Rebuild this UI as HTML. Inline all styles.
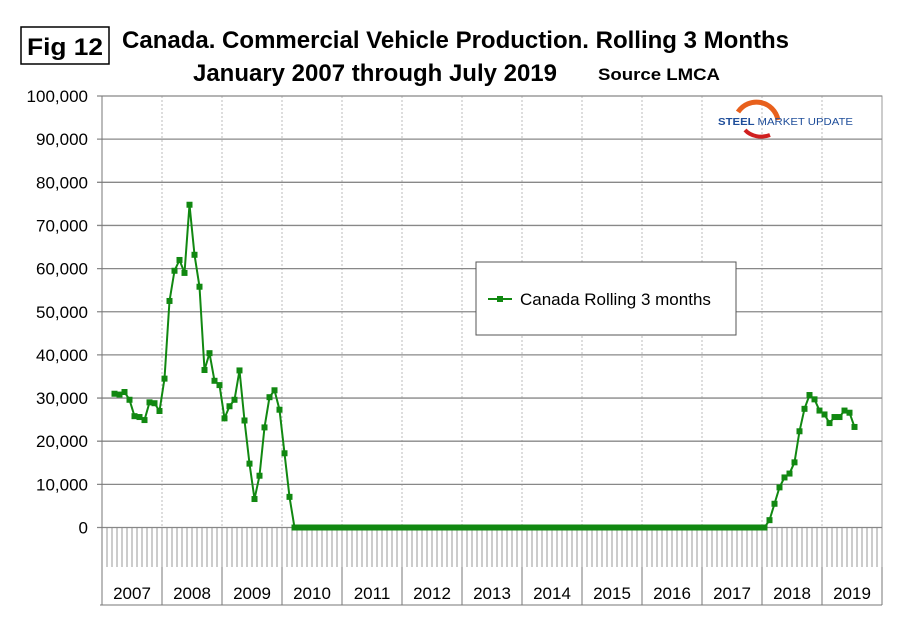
<!DOCTYPE html>
<html><head><meta charset="utf-8"><style>
body{margin:0;background:#fff;}
svg{display:block;font-family:"Liberation Sans",Arial,sans-serif;}
</style></head><body>
<svg id="chart" width="910" height="622" viewBox="0 0 910 622">
<rect x="0" y="0" width="910" height="622" fill="#fff"/>
<rect x="21" y="27" width="88" height="37" fill="#fff" stroke="#000" stroke-width="1.5"/>
<text x="65" y="55" font-size="24" font-weight="bold" text-anchor="middle" textLength="76" lengthAdjust="spacingAndGlyphs">Fig 12</text>
<text x="122" y="48" font-size="24" font-weight="bold" textLength="667" lengthAdjust="spacingAndGlyphs">Canada. Commercial Vehicle Production. Rolling 3 Months</text>
<text x="193" y="81" font-size="24" font-weight="bold" textLength="364" lengthAdjust="spacingAndGlyphs">January 2007 through July 2019</text>
<text x="598" y="80" font-size="17" font-weight="bold" textLength="122" lengthAdjust="spacingAndGlyphs">Source LMCA</text>
<g id="grid"></g>
<g id="logo">
<path d="M738 112 A22 22 0 0 1 778 120" fill="none" stroke="#e8601c" stroke-width="5"/>
<path d="M745 130 A20 16 0 0 0 770 135" fill="none" stroke="#d02020" stroke-width="4"/>
<text x="718" y="125" font-size="10.5" font-weight="bold" fill="#1f4e9a" textLength="135" lengthAdjust="spacingAndGlyphs">STEEL <tspan font-weight="normal">MARKET UPDATE</tspan></text>
</g>
<g id="series"></g>
<g>
<rect x="476" y="262" width="260" height="73" fill="#fff" stroke="#555" stroke-width="1"/>
<line x1="488" y1="299" x2="512" y2="299" stroke="#118811" stroke-width="2"/>
<rect x="497" y="296" width="6" height="6" fill="#118811"/>
<text x="520" y="305" font-size="17">Canada Rolling 3 months</text>
</g>
</svg>
<script>
const yTicks = [0,10000,20000,30000,40000,50000,60000,70000,80000,90000,100000];
const years = ["2007","2008","2009","2010","2011","2012","2013","2014","2015","2016","2017","2018","2019"];
const startMonth = 2; // March 2007
const values2007_2010 = [31000,30800,31400,29600,25800,25600,24900,29000,28800,27000,
 34500,52500,59500,62000,59000,74800,63200,55800,36500,40400,34000,33000,
 25300,28100,29600,36400,24800,14800,6600,12000,23200,30200,31800,27300,
 17200,7100];
const zeroMonths = 95; // Mar 2010 .. Jan 2018
const values2018_2019 = [1700,5500,9300,11600,12500,15100,22300,27500,30700,29700,27100,
 26200,24200,25600,25600,27100,26600,23300];
const values = values2007_2010.concat(new Array(zeroMonths).fill(0)).concat(values2018_2019);

const NS="http://www.w3.org/2000/svg";
const X0=102, X1=882, Y0=527.5, Y1=96, MW=5;
const totalMonths = years.length*12;
const xScale = m => X0 + (m+0.5)*(X1-X0)/totalMonths;
const xEdge = m => X0 + m*(X1-X0)/totalMonths;
const yScale = v => Y0 - (v/100000)*(Y0-Y1);
function mk(tag, attrs, parent){const e=document.createElementNS(NS,tag);for(const k in attrs)e.setAttribute(k,attrs[k]);parent.appendChild(e);return e;}
const grid=document.getElementById('grid');
const ser=document.getElementById('series');
mk('rect',{x:X0,y:Y1,width:X1-X0,height:Y0-Y1,fill:'#fff',stroke:'#999','stroke-width':1},grid);
years.forEach((y,i)=>{
  if(i>0){const l=mk('line',{x1:xEdge(i*12),x2:xEdge(i*12),y1:Y1,y2:Y0,stroke:'#bbb','stroke-dasharray':'2,2'},grid);
  
  }
  const s=mk('line',{x1:xEdge(i*12),x2:xEdge(i*12),y1:Y0,y2:605,stroke:'#777'},grid);
  
  
  const t=mk('text',{x:(xEdge(i*12)+xEdge(i*12+12))/2,y:599,'font-size':17,'text-anchor':'middle'},grid);
  t.textContent=y;
  
  
});
mk('line',{x1:X1,x2:X1,y1:Y0,y2:605,stroke:'#777'},grid);
mk('line',{x1:X0-2,x2:X1,y1:605,y2:605,stroke:'#777'},grid);
for(let m=0;m<=totalMonths;m++){
  const l=mk('line',{x1:xEdge(m),x2:xEdge(m),y1:Y0,y2:567,stroke:'#999'},grid);
  
  
}
yTicks.forEach(v=>{
  const l=mk('line',{x1:X0-5,x2:X1,y1:yScale(v),y2:yScale(v),stroke:'#888','stroke-width':1.3},grid);
  
  
  const t=mk('text',{x:88,y:yScale(v)+6,'font-size':17,'text-anchor':'end'},grid);
  t.textContent=v.toLocaleString('en-US');
  
  
});
mk('line',{x1:X0,x2:X0,y1:Y1,y2:605,stroke:'#777'},grid);
const pts=values.map((v,i)=>xScale(startMonth+i)+','+yScale(v)).join(' ');
const pl=mk('polyline',{points:pts,fill:'none',stroke:'#118811','stroke-width':2},ser);


values.forEach((v,i)=>{
  const r=mk('rect',{x:xScale(startMonth+i)-3,y:yScale(v)-3,width:6,height:6,fill:'#118811'},ser);
  
  
});
</script>
</body></html>
